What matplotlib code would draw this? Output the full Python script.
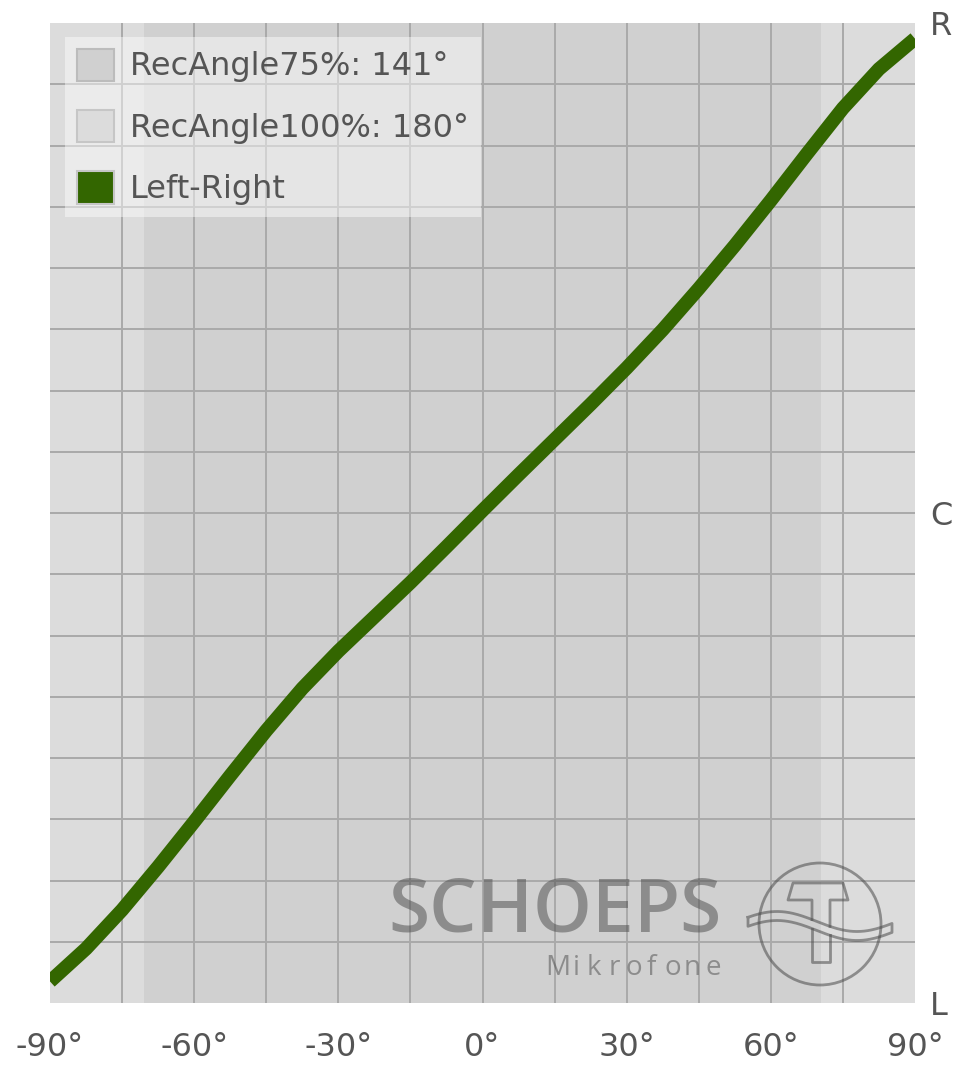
import numpy as np
import matplotlib
matplotlib.use('Agg')
import matplotlib.pyplot as plt
from matplotlib.patches import Patch, Circle
from matplotlib.textpath import TextPath
from matplotlib.font_manager import FontProperties

# Abbildungskurve: Schalleinfallswinkel -> Lokalisation (L = -1, C = 0, R = 1)
angle = [-90, -82.5, -75, -67.5, -60, -52.5, -45, -37.5, -30, -22.5, -15, -7.5,
         0, 7.5, 15, 22.5, 30, 37.5, 45, 52.5, 60, 67.5, 75, 82.5, 90]
position = [-0.956, -0.889, -0.810, -0.722, -0.630, -0.536, -0.444, -0.358,
            -0.282, -0.212, -0.142, -0.069, 0.005, 0.078, 0.150, 0.222,
            0.296, 0.374, 0.458, 0.546, 0.638, 0.733, 0.826, 0.906, 0.968]

rec_angle_75 = 141
rec_angle_100 = 180

x_ticks = [-90, -60, -30, 0, 30, 60, 90]
y_ticks = [-1, 0, 1]
y_labels = ['L', 'C', 'R']

TEXT = '#555555'
LIGHT = '#dcdcdc'
DARK = '#d0d0d0'
GRID = '#a9a9a9'
GREEN = '#336600'

plt.rcParams['font.family'] = ['DejaVu Sans']

W, H = 958, 1066
fig = plt.figure(figsize=(W / 100, H / 100), dpi=100)
ax = fig.add_axes([50 / W, 1 - 1003 / H, 865 / W, 980 / H])
ax.set_xlim(-90, 90)
ax.set_ylim(-1, 1)
ax.set_facecolor(LIGHT)

# Aufnahmebereiche
ax.axvspan(-rec_angle_100 / 2, rec_angle_100 / 2, color=LIGHT, lw=0, zorder=0)
ax.axvspan(-rec_angle_75 / 2, rec_angle_75 / 2, color=DARK, lw=0, zorder=0.5)

# Raster (nur innere Linien)
for gx in np.arange(-75, 90, 15):
    ax.axvline(gx, color=GRID, lw=1.4, zorder=1)
for gy in np.arange(-0.875, 1.0, 0.125):
    ax.axhline(gy, color=GRID, lw=1.4, zorder=1)

ax.plot(angle, position, color=GREEN, lw=10, solid_capstyle='butt',
        solid_joinstyle='round', zorder=3)

for s in ax.spines.values():
    s.set_visible(False)

ax.set_xticks(x_ticks)
ax.set_xticklabels([f'{t}°' for t in x_ticks])
ax.tick_params(axis='x', length=0, pad=21, labelsize=23, labelcolor=TEXT)
ax.yaxis.tick_right()
ax.set_yticks(y_ticks)
ax.set_yticklabels(y_labels)
ax.tick_params(axis='y', length=0, pad=11, labelsize=23, labelcolor=TEXT)

handles = [
    Patch(facecolor=DARK, edgecolor='#bcbcbc', lw=1.5,
          label=f'RecAngle75%: {rec_angle_75}°'),
    Patch(facecolor=LIGHT, edgecolor='#c6c6c6', lw=1.5,
          label=f'RecAngle100%: {rec_angle_100}°'),
    Patch(facecolor=GREEN, edgecolor='#c6c6c6', lw=1.5, label='Left-Right'),
]
leg = ax.legend(handles=handles, loc='upper left',
                bbox_to_anchor=(15 / 865, 1 - 14 / 980), borderaxespad=0,
                fontsize=23, handlelength=1.18, handleheight=1.18,
                handletextpad=0.5, labelspacing=0.86, borderpad=0.36,
                fancybox=False, frameon=True)
leg.get_frame().set_facecolor('white')
leg.get_frame().set_alpha(0.45)
leg.get_frame().set_edgecolor('none')
for t in leg.get_texts():
    t.set_color(TEXT)
leg.set_zorder(5)

# Firmenlogo als Wasserzeichen (Pixelkoordinaten)
wm = fig.add_axes([0, 0, 1, 1], zorder=4)
wm.set_xlim(0, W)
wm.set_ylim(H, 0)
wm.axis('off')
wm.patch.set_alpha(0)

mark = dict(color='#4a4a4a', alpha=0.5)
wm.text(722, 932, 'SCHOEPS', family=['Open Sans', 'DejaVu Sans'],
        fontweight='semibold', fontsize=54, ha='right', va='baseline', **mark)

# "Mikrofone" gesperrt gesetzt
fp = FontProperties(family=['Open Sans', 'DejaVu Sans'], size=20)
word = 'Mikrofone'
scale = 100 / 72
def prefix_w(k):
    if k == 0:
        return 0.0
    return TextPath((0, 0), word[:k], prop=fp).get_extents().x1 * scale
full_w = prefix_w(len(word))
track = (177 - full_w) / (len(word) - 1)
for k, ch in enumerate(word):
    wm.text(545 + prefix_w(k) + k * track, 975, ch, fontproperties=fp,
            ha='left', va='baseline', **mark)

lc = '#4a4a4a'
wm.add_patch(Circle((820, 924), 61, fill=False, ec=lc, lw=2, alpha=0.55))
def wave_y(x, off):
    return 926 - 10 * np.cos(2 * np.pi * (x - 777) / 160) + off
xs = np.linspace(748, 892, 120)
top, bot = wave_y(xs, -4.5), wave_y(xs, 4.5)
wm.plot(np.r_[xs, xs[::-1], xs[0]], np.r_[top, bot[::-1], top[0]],
        color=lc, lw=2, alpha=0.55)
wm.plot([812, 812, 788, 793, 843, 848, 830, 830],
        [wave_y(812, -4.5), 900, 900, 883, 883, 900, 900, wave_y(830, -4.5)],
        color=lc, lw=2, alpha=0.55)
wm.plot([812, 812, 830, 830],
        [wave_y(812, 4.5), 962, 962, wave_y(830, 4.5)],
        color=lc, lw=2, alpha=0.55)

fig.savefig('out.png', dpi=100, facecolor='white')
